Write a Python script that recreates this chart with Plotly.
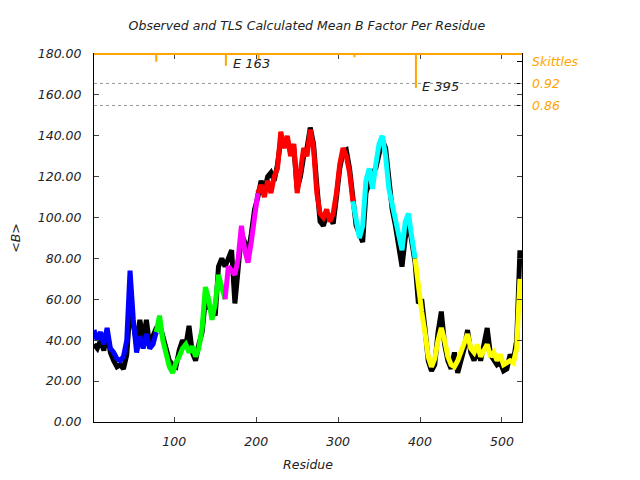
import plotly.graph_objects as go

# residue numbers sampled every 4 residues
residues = [2, 6, 10, 14, 18, 22, 26, 30, 34, 38, 42, 46, 50, 54, 58, 62, 66, 70, 74, 78,
            82, 86, 90, 94, 98, 102, 106, 110, 114, 118, 122, 126, 130, 134, 138, 142, 146, 150, 154, 158, 162,
            166, 170, 174, 178, 182, 186, 190, 194, 198, 202,
            206, 210, 214, 218, 222, 226, 230, 234, 238, 242, 246, 250, 254, 258, 262, 266, 270, 274, 278,
            282, 286, 290, 294, 298, 302, 306, 310, 314, 318,
            322, 326, 330, 334, 338, 342, 346, 350, 354, 358, 362, 366, 370, 374, 378, 382, 386, 390, 394,
            398, 402, 406, 410, 414, 418, 422, 426, 430, 434, 438, 442, 446, 450, 454, 458, 462, 466, 470,
            474, 478, 482, 486, 490, 494, 498, 502, 506, 510, 514, 518, 522]

observed = [38, 36, 40, 35, 44, 34, 30, 27, 28, 26, 33, 55, 48, 38, 50, 40, 50, 37, 42, 46,
            48, 42, 34, 30, 28, 27, 35, 40, 37, 47, 34, 30, 38, 44, 60, 56, 55, 52, 76, 80, 76,
            80, 84, 58, 76, 92, 88, 82, 92, 104, 110,
            118, 113, 120, 122, 118, 126, 138, 136, 138, 132, 134, 114, 120, 130, 134, 144, 136, 116, 98,
            96, 101, 100, 97, 110, 124, 132, 133, 124, 110,
            96, 92, 88, 112, 118, 122, 124, 132, 138, 134, 118, 104, 96, 86, 76, 90, 98, 88, 78,
            58, 60, 46, 30, 25, 28, 44, 54, 38, 30, 26, 34, 24, 30, 36, 45, 34, 30, 36,
            30, 38, 46, 33, 30, 28, 29, 25, 26, 33, 30, 40, 84]

calculated = [45, 40, 44, 38, 46, 36, 34, 31, 30, 32, 40, 74, 50, 34, 42, 36, 43, 36, 38, 44,
              52, 40, 33, 27, 24, 29, 32, 36, 38, 34, 37, 32, 36, 46, 66, 60, 50, 58, 72, 66, 60,
              76, 74, 72, 80, 96, 84, 78, 88, 100, 112,
              116, 110, 118, 112, 120, 124, 142, 134, 140, 130, 136, 112, 122, 134, 130, 143, 134, 112, 102,
              100, 104, 98, 102, 112, 126, 134, 130, 122, 108,
              100, 90, 96, 118, 124, 114, 126, 136, 140, 130, 114, 106, 98, 90, 84, 98, 102, 90, 80,
              64, 54, 44, 32, 27, 31, 40, 46, 40, 32, 28, 27, 30, 34, 38, 43, 36, 34, 38,
              32, 35, 38, 32, 34, 30, 33, 28, 29, 30, 29, 36, 70]

# TLS groups: first and last residue of each segment
group_starts = [2, 78, 162, 202, 318, 394]
group_ends = [78, 162, 202, 318, 394, 522]
group_colors = ["#0000ff", "#00ff00", "#ff00ff", "#ff0000", "#00ffff", "#ffff00"]

# skittles markers hanging from the top
skittle_res = [78, 163, 203, 320, 395]
skittle_val = [0.979, 0.968, 0.986, 0.991, 0.908]

fig = go.Figure()

fig.add_trace(go.Scatter(x=residues, y=observed, mode="lines",
                         line=dict(color="black", width=5), showlegend=False))

for s, e, c in zip(group_starts, group_ends, group_colors):
    xs = [r for r in residues if s <= r <= e]
    ys = [v for r, v in zip(residues, calculated) if s <= r <= e]
    fig.add_trace(go.Scatter(x=xs, y=ys, mode="lines",
                             line=dict(color=c, width=5), showlegend=False))

sx, sy = [], []
for r, v in zip(skittle_res, skittle_val):
    sx += [r, r, None]
    sy += [1.0, v, None]
fig.add_trace(go.Scatter(x=sx, y=sy, yaxis="y2", mode="lines",
                         line=dict(color="#ffa500", width=2), showlegend=False))

for lvl in [0.92, 0.86]:
    fig.add_shape(type="line", xref="paper", yref="y2", x0=0, x1=1, y0=lvl, y1=lvl,
                  line=dict(color="#999999", width=1, dash="dot"))
fig.add_shape(type="line", xref="paper", yref="paper", x0=0, x1=1, y0=1, y1=1,
              line=dict(color="#ffa500", width=2))

fig.add_annotation(x=169, y=0.973, yref="y2", text="E 163", showarrow=False,
                   xanchor="left", font=dict(size=13, color="#222222", style="italic"))
fig.add_annotation(x=400, y=0.913, yref="y2", text="E 395", showarrow=False,
                   xanchor="left", font=dict(size=13, color="#222222", style="italic"))

# page body adds an 8px offset, so the figure is 632x472
fig.update_layout(
    width=632, height=472,
    margin=dict(l=86, r=118, t=46, b=58, autoexpand=False),
    plot_bgcolor="white", paper_bgcolor="white",
    font=dict(family="DejaVu Sans", size=12.5, color="#222222", style="italic"),
    title=dict(text="Observed and TLS Calculated Mean B Factor Per Residue",
               x=0.473, xanchor="center", y=0.962, yanchor="middle",
               font=dict(size=12.5, style="italic")),
    xaxis=dict(range=[2, 524.5], tickvals=[100, 200, 300, 400, 500], ticks="inside",
               ticklen=5, showline=True, linecolor="black", linewidth=1, mirror="ticks",
               showgrid=False, zeroline=False, automargin=False, ticklabelstandoff=8,
               title=dict(text="Residue", standoff=12, font=dict(size=12.5))),
    yaxis=dict(range=[0, 180], dtick=20, tickformat=".2f", ticks="inside", ticklen=5,
               showline=True, linecolor="black", linewidth=1, mirror="ticks",
               showgrid=False, zeroline=False, automargin=False, ticklabelstandoff=9,
               title=dict(text="&lt;B&gt;", standoff=14, font=dict(size=12.5))),
    yaxis2=dict(overlaying="y", side="right", range=[0, 1],
                tickvals=[0.98, 0.92, 0.86], ticktext=["Skittles", "0.92", "0.86"],
                ticks="inside", ticklen=5, tickcolor="black", automargin=False,
                ticklabelstandoff=9,
                tickfont=dict(color="#ffa500", size=12.5, style="italic"),
                showgrid=False, zeroline=False, showline=False),
)

fig.write_html("out.html")
